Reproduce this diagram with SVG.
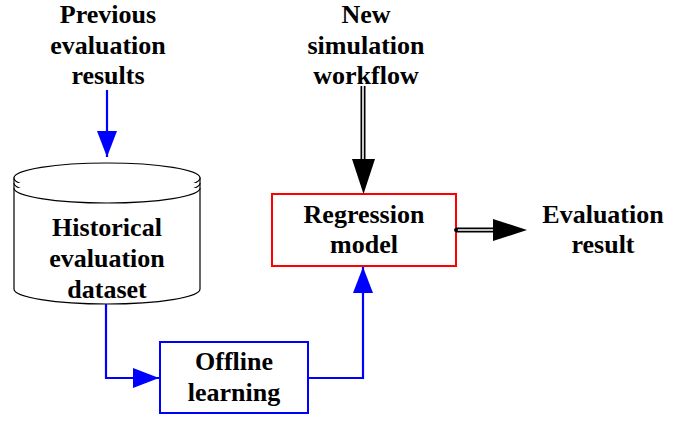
<svg xmlns="http://www.w3.org/2000/svg" width="690" height="421" viewBox="0 0 690 421">
<style>
text{font-family:"Liberation Serif","Times New Roman",serif;font-weight:bold;font-size:26px;fill:#000;text-anchor:middle}
.blue{stroke:#0000ff;stroke-width:2.2;fill:none}
.cyl{stroke:#000;stroke-width:1.2;fill:#fff}
</style>
<defs>
<marker id="ab" markerUnits="userSpaceOnUse" markerWidth="28" markerHeight="20" refX="26" refY="10" orient="auto"><path d="M0,0 L26,10 L0,20 Z" fill="#0000ff"/></marker>
</defs>
<g id="previous-label">
<text x="108" y="23">Previous</text>
<text x="108" y="54">evaluation</text>
<text x="108" y="84">results</text>
</g>
<g id="new-workflow-label">
<text x="366" y="23">New</text>
<text x="366" y="54">simulation</text>
<text x="366" y="84">workflow</text>
</g>
<g id="historical-dataset">
<path class="cyl" d="M14,178 L14,289 A93,15 0 0 0 200,289 L200,178 Z"/>
<ellipse class="cyl" cx="107" cy="178" rx="93" ry="15"/>
<path class="cyl" fill="none" d="M14,183 A93,15 0 0 0 200,183"/>
<path class="cyl" fill="none" d="M14,188 A93,15 0 0 0 200,188"/>
<text x="107" y="236">Historical</text>
<text x="107" y="267">evaluation</text>
<text x="107" y="298">dataset</text>
</g>
<g id="regression-model">
<rect x="272" y="194" width="184" height="72" fill="#fff" stroke="#ff0000" stroke-width="2"/>
<text x="364" y="223">Regression</text>
<text x="364" y="253">model</text>
</g>
<g id="offline-learning">
<rect x="160" y="342" width="148" height="71" fill="#fff" stroke="#0000ff" stroke-width="2"/>
<text x="234" y="370">Offline</text>
<text x="234" y="401">learning</text>
</g>
<g id="evaluation-result">
<text x="603" y="223">Evaluation</text>
<text x="603" y="253">result</text>
</g>
<g id="connectors">
<line class="blue" x1="107" y1="90" x2="107" y2="157" marker-end="url(#ab)"/>
<polyline class="blue" points="106,304 106,378 159,378" marker-end="url(#ab)"/>
<polyline class="blue" points="308,378 363,378 363,267" marker-end="url(#ab)"/>
<line x1="363" y1="86" x2="363" y2="162" stroke="#000" stroke-width="5"/>
<line x1="363" y1="86" x2="363" y2="162" stroke="#fff" stroke-width="1.6"/>
<path d="M352,159 L375,159 L363.5,194 Z" fill="#000"/>
<line x1="456" y1="230" x2="496" y2="230" stroke="#000" stroke-width="5"/>
<line x1="457" y1="230" x2="496" y2="230" stroke="#fff" stroke-width="1.6"/>
<circle cx="456" cy="230" r="2" fill="#000"/>
<path d="M493,219 L527,230 L493,241 Z" fill="#000"/>
</g>
</svg>
